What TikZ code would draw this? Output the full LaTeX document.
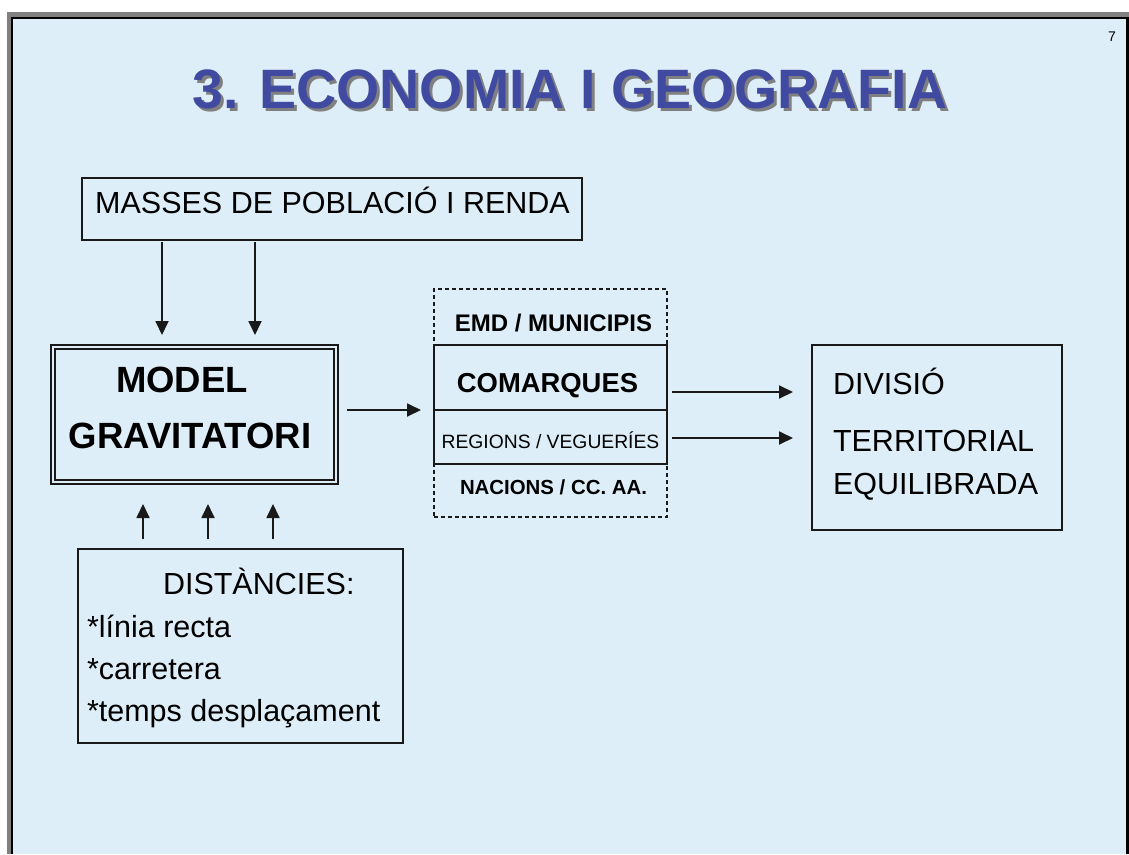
\documentclass[tikz,border=0pt]{standalone}
\usepackage{fontspec}
\setmainfont{Liberation Sans}
\usetikzlibrary{arrows.meta}
\definecolor{bg}{RGB}{222,238,249}
\definecolor{titleblue}{RGB}{64,74,160}
\definecolor{framegray}{RGB}{128,128,128}
\definecolor{ink}{RGB}{25,25,25}
\newcommand{\fsz}[1]{\fontsize{#1}{#1}\selectfont}
\newcommand{\shadowtext}[1]{\rlap{\hspace{3pt}\raisebox{-3pt}{\textcolor{framegray}{#1}}}\textcolor{titleblue}{#1}}
\begin{document}
\begin{tikzpicture}[x=1pt,y=-1pt,
  box/.style={draw=ink, line width=1.8pt, inner sep=0pt, outer sep=0pt},
  arr/.style={draw=ink, line width=1.8pt, -{Triangle[length=14pt,width=13pt]}},
  txt/.style={inner sep=0pt, outer sep=0pt, text=black},
  body/.style={txt, font=\fsz{30.5}},
  lvl/.style={txt, anchor=base}]
\useasboundingbox (0,0) rectangle (1129,854);
% slide frame
\fill[white] (0,0) rectangle (1129,854);
\fill[framegray] (7,12) rectangle (1129,854);
\fill[black] (11,17) rectangle (1129,854);
\fill[bg] (13,19) rectangle (1126,854);
% page number
\node[txt, anchor=base, font=\fsz{14}] (pagenum) at (1112,41) {7};
% title with shadow
\node[txt, anchor=base, font=\bfseries\fsz{55.5}] (title) at (570,108) {\shadowtext{3. ECONOMIA I GEOGRAFIA}};
% masses box
\node[box, minimum width=500pt, minimum height=62pt] (masses) at (332,209) {};
\node[body, anchor=base] (massestxt) at (332.5,213) {MASSES DE POBLACIÓ I RENDA};
% model box
\node[draw=ink, double=bg, line width=1.6pt, double distance=2pt, inner sep=0pt, outer sep=0pt,
      minimum width=283pt, minimum height=135pt] (model) at (194.5,414.5) {};
\node[txt, anchor=base, font=\bfseries\fsz{36.5}] (model1) at (182,392) {MODEL};
\node[txt, anchor=base, font=\bfseries\fsz{36.5}] (model2) at (190,448) {GRAVITATORI};
% distances box
\node[box, minimum width=325pt, minimum height=194pt] (dist) at (240.5,646) {};
\node[body, anchor=base west] (dist0) at (163,594) {DISTÀNCIES:};
\node[body, anchor=base west] (dist1) at (87,637) {*línia recta};
\node[body, anchor=base west] (dist2) at (87,679) {*carretera};
\node[body, anchor=base west] (dist3) at (87,721) {*temps desplaçament};
% levels
\node[draw=ink, line width=1.2pt, dash pattern=on 4pt off 3pt, inner sep=0pt, outer sep=0pt,
      minimum width=233pt, minimum height=228pt] (levels) at (550.5,403) {};
\node[box, minimum width=233pt, minimum height=119pt] (core) at (550.5,404.5) {};
\coordinate (divl) at (434,410);
\coordinate (divr) at (667,410);
\draw[ink, line width=1.8pt] (divl) -- (divr);
\node[lvl, font=\bfseries\fsz{24}] (emd) at (553.5,331.5) {EMD / MUNICIPIS};
\node[lvl, font=\bfseries\fsz{27.4}] (comarques) at (547.5,392.5) {COMARQUES};
\node[lvl, font=\fsz{19.3}] (regions) at (550.5,448) {REGIONS / VEGUERÍES};
\node[lvl, font=\bfseries\fsz{20.4}] (nacions) at (553.5,494.3) {NACIONS / CC. AA.};
% result box
\node[box, minimum width=250pt, minimum height=185pt] (divisio) at (937,437.5) {};
\node[body, anchor=base west] (div1) at (833,394) {DIVISIÓ};
\node[body, anchor=base west] (div2) at (833,451) {TERRITORIAL};
\node[body, anchor=base west] (div3) at (833,494) {EQUILIBRADA};
% connector guide coordinates
\coordinate (xa) at (162,0);
\coordinate (xb) at (255,0);
\coordinate (xc) at (143,0);
\coordinate (xd) at (208,0);
\coordinate (xe) at (273,0);
\coordinate (ya) at (0,410);
\coordinate (yb) at (0,392);
\coordinate (yc) at (0,438);
% arrows
\draw[arr, shorten <=2pt, shorten >=12pt] (masses.south -| xa) -- (model.north -| xa);
\draw[arr, shorten <=2pt, shorten >=12pt] (masses.south -| xb) -- (model.north -| xb);
\draw[arr, shorten <=10pt, shorten >=22pt] (dist.north -| xc) -- (model.south -| xc);
\draw[arr, shorten <=10pt, shorten >=22pt] (dist.north -| xd) -- (model.south -| xd);
\draw[arr, shorten <=10pt, shorten >=22pt] (dist.north -| xe) -- (model.south -| xe);
\draw[arr, shorten <=11pt, shorten >=13pt] (model.east |- ya) -- (core.west |- ya);
\draw[arr, shorten <=5pt, shorten >=19pt] (core.east |- yb) -- (divisio.west |- yb);
\draw[arr, shorten <=5pt, shorten >=19pt] (core.east |- yc) -- (divisio.west |- yc);
\end{tikzpicture}
\end{document}
